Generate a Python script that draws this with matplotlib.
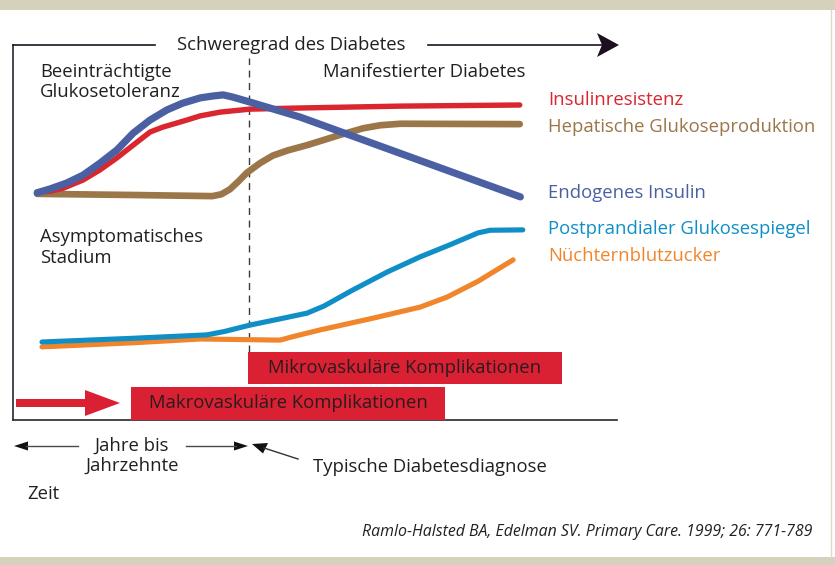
import matplotlib
matplotlib.use("Agg")
import matplotlib.pyplot as plt
from matplotlib.patches import Rectangle, Polygon

plt.rcParams['font.family'] = ['Open Sans', 'DejaVu Sans']

# ---- data (time 0-100 across the frame, level 0-100 up the frame) ----
t_resist = [4, 6.1, 8.3, 11.6, 14.4, 17.2, 19.9, 22.7, 24.8, 26.5, 28.8, 31.0,
            34.3, 39.2, 47.5, 64.1, 83.9]
v_resist = [60.8, 61.0, 61.8, 64.0, 66.7, 69.9, 73.3, 76.8, 78.1, 78.9, 80.0, 81.1,
            82.1, 82.9, 83.2, 83.7, 84.0]

t_hep = [4, 20, 33.0, 34.5, 35.9, 37.3, 38.7, 40.9, 43.0, 45.5, 48.7, 54.1,
         58.0, 60.8, 64.1, 83.9]
v_hep = [60.3, 60.0, 59.7, 60.2, 61.5, 63.6, 65.9, 68.5, 70.5, 71.9, 73.3, 76.0,
         77.8, 78.6, 79.0, 78.9]

t_ins = [4, 6.1, 8.9, 11.6, 14.4, 17.2, 19.9, 22.7, 25.5, 28.1, 31.0, 33.1,
         34.8, 36.4, 39.2, 47.5, 84.0]
v_ins = [60.6, 61.6, 63.2, 65.3, 68.5, 72.0, 76.5, 80.0, 82.7, 84.5, 85.9, 86.4,
         86.7, 86.1, 84.8, 80.8, 59.5]

t_pp = [4.8, 20.0, 32.1, 35.0, 39.2, 44.0, 48.7, 51.5, 56.3, 62.0, 67.4,
        72.0, 77.0, 79.0, 84.4]
v_pp = [20.8, 21.8, 22.7, 23.6, 25.3, 26.9, 28.5, 30.4, 34.7, 39.5, 43.5,
        46.5, 49.9, 50.6, 50.7]

t_fast = [4.8, 20.0, 31.0, 40.0, 44.2, 46.5, 50.8, 60.0, 67.4, 71.9, 77.0, 82.8]
v_fast = [19.5, 20.6, 21.6, 21.4, 21.3, 22.3, 24.0, 27.3, 30.1, 32.8, 37.0, 42.7]

series_names = ["Insulinresistenz", "Hepatische Glukoseproduktion",
                "Endogenes Insulin", "Postprandialer Glukosespiegel",
                "Nüchternblutzucker"]
diagnosis_t = 39.1

# ---- styles ----
C_RED = "#d9262f"
C_BROWN = "#9a7649"
C_BLUE = "#4a60a3"
C_CYAN = "#0f8fc5"
C_ORANGE = "#f0852b"
C_TEXT = "#231f20"
C_BOX = "#da2033"
FS = 13.3

W, H = 835, 565
fig = plt.figure(figsize=(W / 100, H / 100), dpi=100)
fig.patch.set_facecolor("white")

# frame axes: x 13..617 px, y 45..420 px
L, R, T, B = 13, 617, 45, 420
ax = fig.add_axes([L / W, 1 - B / H, (R - L) / W, (B - T) / H])
ax.set_xlim(0, 100)
ax.set_ylim(0, 100)
ax.patch.set_alpha(0)
for s in ["top", "right"]:
    ax.spines[s].set_visible(False)
for s in ["left", "bottom"]:
    ax.spines[s].set_color("#2d2430")
    ax.spines[s].set_linewidth(1.2)
ax.set_xticks([])
ax.set_yticks([])

ax.axvline(diagnosis_t, ymin=18.1 / 100, ymax=96.5 / 100, color="#3a3a3a",
           lw=1, ls=(0, (5, 4)), zorder=1)

kw = dict(solid_capstyle="round", solid_joinstyle="round", zorder=3)
ax.plot(t_hep, v_hep, color=C_BROWN, lw=4.8, **kw)
ax.plot(t_resist, v_resist, color=C_RED, lw=3.9, **kw)
ax.plot(t_ins, v_ins, color=C_BLUE, lw=5.2, **kw)
ax.plot(t_fast, v_fast, color=C_ORANGE, lw=3.7, **kw)
ax.plot(t_pp, v_pp, color=C_CYAN, lw=3.7, **kw)

# ---- decoration overlay in pixel coordinates ----
d = fig.add_axes([0, 0, 1, 1], zorder=5)
d.set_xlim(0, W)
d.set_ylim(H, 0)
d.axis("off")
d.patch.set_alpha(0)

# bands
d.add_patch(Rectangle((0, 0), W, 10, color="#d5d2bc", lw=0))
d.add_patch(Rectangle((0, 557), W, 8, color="#d5d2bc", lw=0))
d.plot([831, 831], [10, 557], color="#dcdacb", lw=1)

# top line + arrow
d.plot([L, 155], [T, T], color="#1c1420", lw=1.2)
d.plot([428, 602], [T, T], color="#1c1420", lw=1.2)
d.add_patch(Polygon([(619, T), (597, 33), (602, T), (597, 57)],
                    closed=True, color="#1c0f1f", lw=0))
d.text(291, T, "Schweregrad des Diabetes", ha="center", va="center",
       fontsize=FS, color=C_TEXT)

# texts inside
d.text(40, 72, "Beeinträchtigte", ha="left", va="center", fontsize=FS, color=C_TEXT)
d.text(40, 92, "Glukosetoleranz", ha="left", va="center", fontsize=FS, color=C_TEXT)
d.text(424, 72, "Manifestierter Diabetes", ha="center", va="center", fontsize=FS, color=C_TEXT)
d.text(40, 237, "Asymptomatisches", ha="left", va="center", fontsize=FS, color=C_TEXT)
d.text(40, 258, "Stadium", ha="left", va="center", fontsize=FS, color=C_TEXT)

# series labels
label_y = [100, 127, 193, 229, 256]
label_c = [C_RED, C_BROWN, C_BLUE, C_CYAN, C_ORANGE]
for name, y, c in zip(series_names, label_y, label_c):
    d.text(548, y, name, ha="left", va="center", fontsize=FS, color=c)

# complication boxes
d.add_patch(Rectangle((248, 352), 314, 32, color=C_BOX, lw=0))
d.text(405, 368, "Mikrovaskuläre Komplikationen", ha="center", va="center",
       fontsize=FS, color="#2a1c1e")
d.add_patch(Rectangle((131, 387), 314, 33, color=C_BOX, lw=0))
d.text(288, 403, "Makrovaskuläre Komplikationen", ha="center", va="center",
       fontsize=FS, color="#2a1c1e")
# red arrow
d.add_patch(Rectangle((16, 399), 70, 8, color=C_BOX, lw=0))
d.add_patch(Polygon([(85, 390), (120, 403), (85, 416)], closed=True, color=C_BOX, lw=0))

# time arrows
d.plot([26, 78], [446, 446], color="#4a4a4a", lw=1)
d.add_patch(Polygon([(14, 446), (28, 441.5), (28, 450.5)], closed=True, color="#111111", lw=0))
d.plot([186, 236], [446, 446], color="#4a4a4a", lw=1)
d.add_patch(Polygon([(248, 446), (234, 441.5), (234, 450.5)], closed=True, color="#111111", lw=0))
d.text(132, 446, "Jahre bis", ha="center", va="center", fontsize=FS, color=C_TEXT)
d.text(132, 466, "Jahrzehnte", ha="center", va="center", fontsize=FS, color=C_TEXT)
d.text(27, 494, "Zeit", ha="left", va="center", fontsize=FS, color=C_TEXT)

# diagnosis arrow
d.plot([264, 298], [448, 459], color="#333333", lw=1)
d.add_patch(Polygon([(252, 444), (268, 443), (263, 453.5)], closed=True, color="#111111", lw=0))
d.text(313, 467, "Typische Diabetesdiagnose", ha="left", va="center",
       fontsize=FS, color=C_TEXT)

d.text(812, 532, "Ramlo-Halsted BA, Edelman SV. Primary Care. 1999; 26: 771-789",
       ha="right", va="center", fontsize=11.4, style="italic", color=C_TEXT)

fig.savefig("out.png", dpi=100, facecolor=fig.get_facecolor())
